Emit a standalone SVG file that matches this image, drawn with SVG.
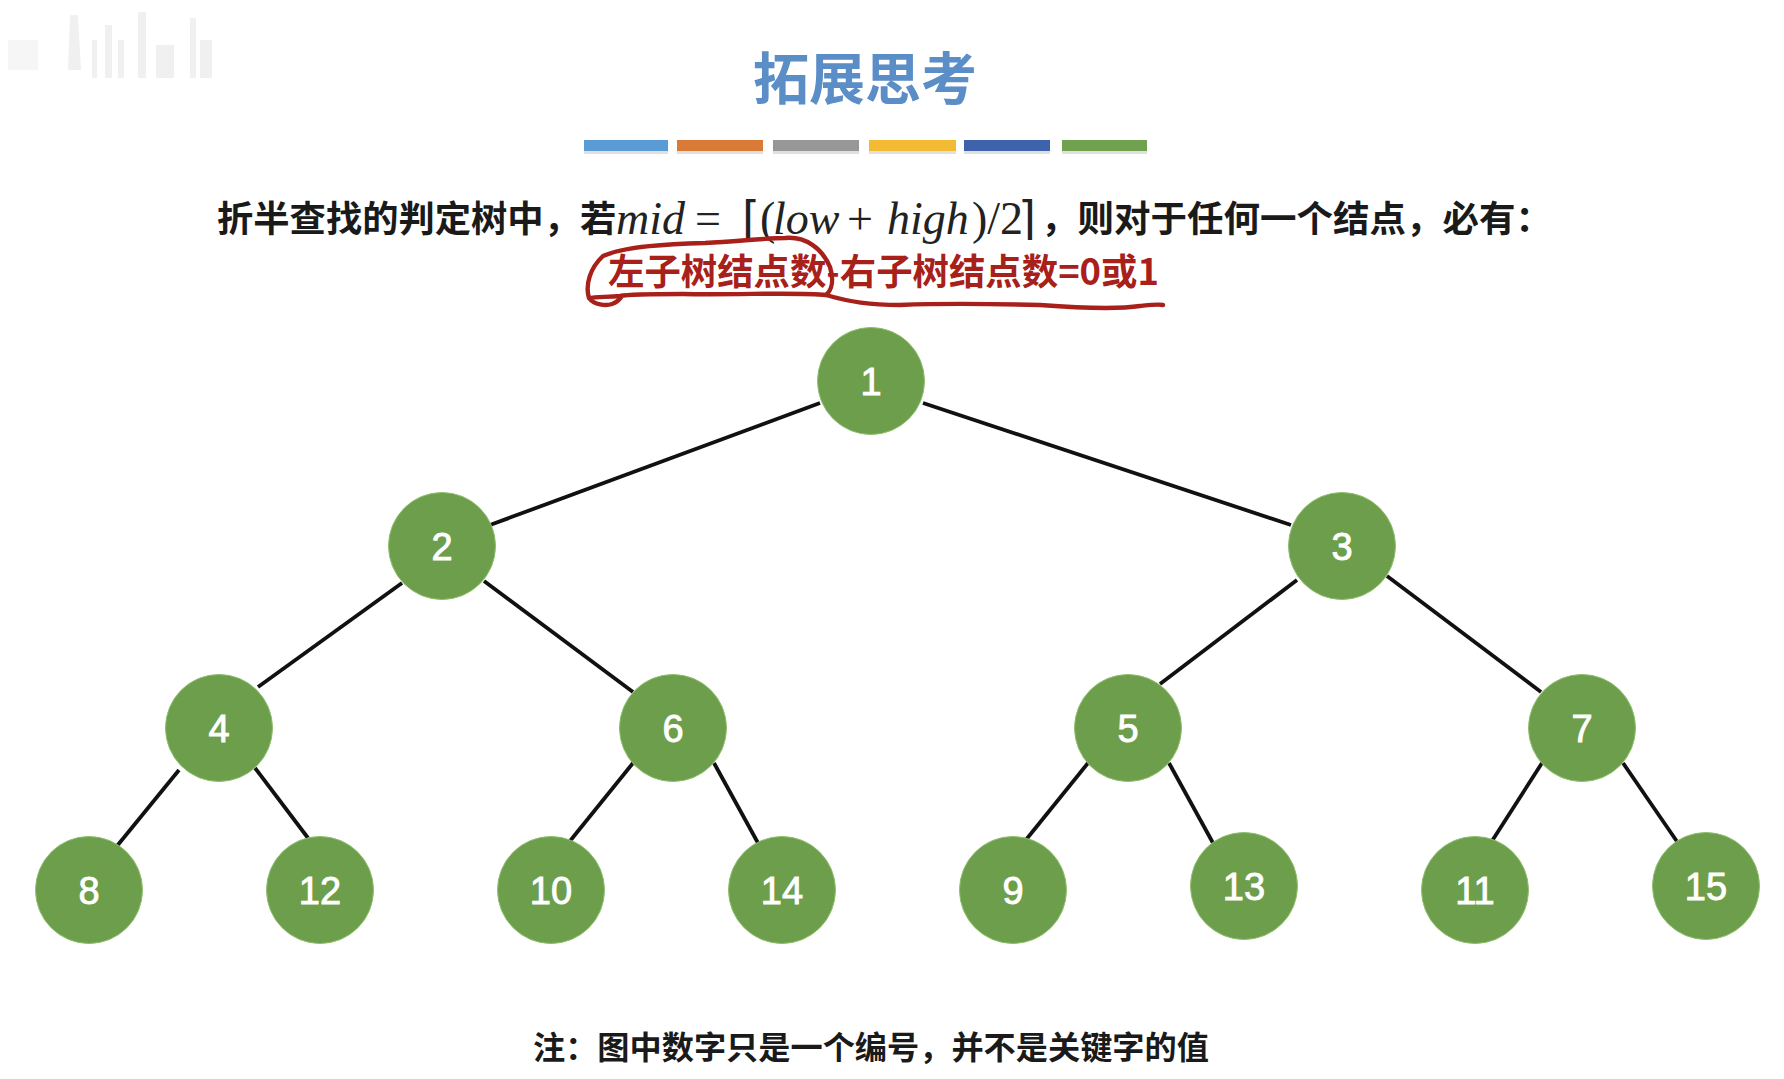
<svg xmlns="http://www.w3.org/2000/svg" width="1784" height="1079" viewBox="0 0 1784 1079">
<style>
.n{fill:#6d9e4c;stroke:#8fbf6e;stroke-width:1}
.l{fill:#fff;stroke:#fff;stroke-width:.9;font:400 38px "Liberation Sans","Noto Sans",sans-serif;text-anchor:middle}
.c{stroke:#111;stroke-width:3.8;fill:none}
.t{font-family:"Noto Sans CJK SC","Liberation Sans",sans-serif;font-weight:700}
.m{font-family:"Liberation Serif",serif;font-size:46px;fill:#222}
.i{font-style:italic}
.r{fill:none;stroke:#a8201a;stroke-width:4.4;stroke-linecap:round;stroke-linejoin:round}
</style>
<rect width="1784" height="1079" fill="#fff"/>
<g id="watermark" fill="#f0f0f0"><path d="M70 15h8l3 55h-13zM92 40h5v38h-5zM105 25h7v53h-7zM118 40h6v38h-6zM138 12h8v66h-8zM156 45h18v33h-18zM190 18h6v60h-6zM200 40h12v38h-12z"/><path d="M8 40h30v30h-30z" fill="#f6f6f6"/></g>
<g id="title"><text class="t" x="865" y="99" font-size="56" fill="#5b8ec7" text-anchor="middle">拓展思考</text>
<g><rect x="584" y="140" width="84" height="11" fill="#5b9bd5"/><rect x="677" y="140" width="86" height="11" fill="#d97b37"/><rect x="773" y="140" width="86" height="11" fill="#979797"/><rect x="869" y="140" width="87" height="11" fill="#f2bb33"/><rect x="964" y="140" width="86" height="11" fill="#3f62ad"/><rect x="1062" y="140" width="85" height="11" fill="#70a14f"/></g>
<g fill="#ccc" opacity=".6"><rect x="584" y="151" width="84" height="3"/><rect x="677" y="151" width="86" height="3"/><rect x="773" y="151" width="86" height="3"/><rect x="869" y="151" width="87" height="3"/><rect x="964" y="151" width="86" height="3"/><rect x="1062" y="151" width="85" height="3"/></g></g>
<g id="statement"><text class="t" x="217" y="232" font-size="36.3" fill="#1a1a1a">折半查找的判定树中，若</text>
<text class="m i" x="616" y="234">mid</text><text class="m" x="695" y="234">=</text>
<text class="m" x="742" y="234" font-size="52">⌈</text><text class="m" x="760" y="234">(</text><text class="m i" x="773" y="234">low</text><text class="m" x="847" y="234">+</text><text class="m i" x="887" y="234">high</text><text class="m" x="972" y="234">)/2</text><text class="m" x="1018" y="234" font-size="52">⌉</text>
<text class="t" x="1041" y="232" font-size="36.5" fill="#1a1a1a">，则对于任何一个结点，必有：</text>
<text class="t" x="608" y="285" font-size="36.4" fill="#a8201a">左子树结点数-右子树结点数=0或1</text></g>
<g id="annotation"><path class="r" d="M589 298C585 285 590 268 603 256C625 246 670 244 705 243C740 241 770 238 785 238C805 236 822 248 830 267C834 280 832 290 826 295C800 292 740 295 683 294C650 294 630 294 620 296C605 297 595 297 589 298C594 305 606 306 612 304C618 302 620 299 622 296"/><path class="r" d="M826 295C850 302 870 305 900 305C950 303 1000 304 1040 305C1080 308 1120 309 1140 306C1150 305 1158 304 1163 305"/></g>
<g id="connectors">
<line class="c" x1="820" y1="403" x2="490" y2="525"/><line class="c" x1="923" y1="403" x2="1291" y2="525"/>
<line class="c" x1="402" y1="583" x2="258" y2="687"/><line class="c" x1="484" y1="581" x2="633" y2="692"/>
<line class="c" x1="1297" y1="580" x2="1160" y2="684"/><line class="c" x1="1387" y1="576" x2="1541" y2="692"/>
<line class="c" x1="179" y1="770" x2="117" y2="846"/><line class="c" x1="255" y1="768" x2="308" y2="838"/>
<line class="c" x1="633" y1="763" x2="570" y2="841"/><line class="c" x1="714" y1="763" x2="758" y2="843"/>
<line class="c" x1="1088" y1="763" x2="1025" y2="841"/><line class="c" x1="1169" y1="763" x2="1213" y2="843"/>
<line class="c" x1="1542" y1="763" x2="1492" y2="841"/><line class="c" x1="1623" y1="763" x2="1678" y2="843"/>
</g>
<g id="n1"><circle class="n" cx="871" cy="381" r="53.5"/><text class="l" x="871" y="395">1</text></g>
<g id="n2"><circle class="n" cx="442" cy="546" r="53.5"/><text class="l" x="442" y="560">2</text></g>
<g id="n3"><circle class="n" cx="1342" cy="546" r="53.5"/><text class="l" x="1342" y="560">3</text></g>
<g id="n4"><circle class="n" cx="219" cy="728" r="53.5"/><text class="l" x="219" y="742">4</text></g>
<g id="n6"><circle class="n" cx="673" cy="728" r="53.5"/><text class="l" x="673" y="742">6</text></g>
<g id="n5"><circle class="n" cx="1128" cy="728" r="53.5"/><text class="l" x="1128" y="742">5</text></g>
<g id="n7"><circle class="n" cx="1582" cy="728" r="53.5"/><text class="l" x="1582" y="742">7</text></g>
<g id="n8"><circle class="n" cx="89" cy="890" r="53.5"/><text class="l" x="89" y="904">8</text></g>
<g id="n12"><circle class="n" cx="320" cy="890" r="53.5"/><text class="l" x="320" y="904">12</text></g>
<g id="n10"><circle class="n" cx="551" cy="890" r="53.5"/><text class="l" x="551" y="904">10</text></g>
<g id="n14"><circle class="n" cx="782" cy="890" r="53.5"/><text class="l" x="782" y="904">14</text></g>
<g id="n9"><circle class="n" cx="1013" cy="890" r="53.5"/><text class="l" x="1013" y="904">9</text></g>
<g id="n13"><circle class="n" cx="1244" cy="886" r="53.5"/><text class="l" x="1244" y="900">13</text></g>
<g id="n11"><circle class="n" cx="1475" cy="890" r="53.5"/><text class="l" x="1475" y="904">11</text></g>
<g id="n15"><circle class="n" cx="1706" cy="886" r="53.5"/><text class="l" x="1706" y="900">15</text></g>
<text id="note" class="t" x="533" y="1059" font-size="32.2" fill="#1a1a1a">注：图中数字只是一个编号，并不是关键字的值</text>
</svg>
